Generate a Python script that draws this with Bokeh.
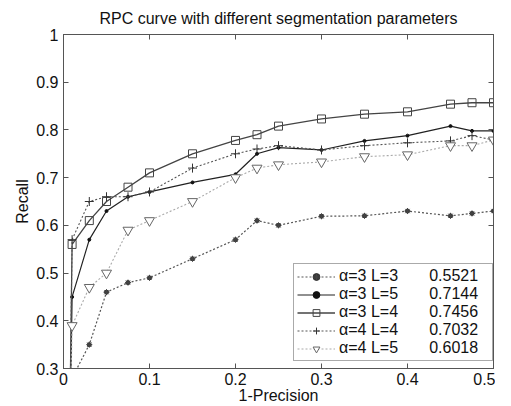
from bokeh.plotting import figure
from bokeh.models import LinearAxis, FixedTicker, Legend, LegendItem, Range1d
from bokeh.embed import file_html
from bokeh.resources import INLINE

# ---- data ----
labels = ["α=3 L=3", "α=3 L=5", "α=3 L=4", "α=4 L=4", "α=4 L=5"]
scores = ["0.5521", "0.7144", "0.7456", "0.7032", "0.6018"]

x1 = [0.01, 0.03, 0.05, 0.075, 0.1, 0.15, 0.2, 0.225, 0.25, 0.3, 0.35, 0.4, 0.45, 0.475, 0.5]
y1 = [0.28, 0.35, 0.46, 0.48, 0.49, 0.53, 0.57, 0.61, 0.60, 0.619, 0.62, 0.63, 0.62, 0.625, 0.63]

x2 = [0.006, 0.01, 0.03, 0.05, 0.075, 0.1, 0.15, 0.2, 0.225, 0.25, 0.3, 0.35, 0.4, 0.45, 0.475, 0.5]
y2 = [0.0, 0.45, 0.57, 0.63, 0.66, 0.67, 0.69, 0.707, 0.75, 0.763, 0.758, 0.777, 0.788, 0.808, 0.798, 0.798]

x3 = [0.006, 0.01, 0.03, 0.05, 0.075, 0.1, 0.15, 0.2, 0.225, 0.25, 0.3, 0.35, 0.4, 0.45, 0.475, 0.5]
y3 = [0.0, 0.56, 0.61, 0.65, 0.68, 0.71, 0.75, 0.778, 0.79, 0.808, 0.823, 0.833, 0.838, 0.854, 0.857, 0.857]

x4 = [0.006, 0.01, 0.03, 0.05, 0.075, 0.1, 0.15, 0.2, 0.225, 0.25, 0.3, 0.35, 0.4, 0.45, 0.475, 0.5]
y4 = [0.0, 0.57, 0.65, 0.66, 0.66, 0.67, 0.72, 0.75, 0.76, 0.767, 0.758, 0.767, 0.773, 0.777, 0.788, 0.779]

x5 = [0.006, 0.01, 0.03, 0.05, 0.075, 0.1, 0.15, 0.2, 0.225, 0.25, 0.3, 0.35, 0.4, 0.45, 0.475, 0.5]
y5 = [0.0, 0.39, 0.47, 0.50, 0.59, 0.61, 0.65, 0.70, 0.72, 0.727, 0.733, 0.744, 0.748, 0.767, 0.767, 0.779]

x_ticks = [0, 0.1, 0.2, 0.3, 0.4, 0.5]
x_tick_labels = ["0", "0.1", "0.2", "0.3", "0.4", "0.5"]
y_ticks = [0.3, 0.4, 0.5, 0.6, 0.7, 0.8, 0.9, 1.0]
y_tick_labels = ["0.3", "0.4", "0.5", "0.6", "0.7", "0.8", "0.9", "1"]

FONT = "Liberation Sans"

p = figure(width=495, height=406, output_backend="svg", toolbar_location=None,
           x_range=Range1d(0, 0.5), y_range=Range1d(0.3, 1.0),
           title="RPC curve with different segmentation parameters",
           min_border_left=63, min_border_right=2, min_border_top=34, min_border_bottom=36)
p.background_fill_color = "white"
p.border_fill_color = "white"
p.outline_line_color = "#555555"
p.grid.visible = False

p.title.text_font = FONT
p.title.text_font_size = "16px"
p.title.text_font_style = "normal"
p.title.align = "center"
p.title.vertical_align = "top"
p.title.text_color = "#111111"
p.title.standoff = 12

def style_axis(ax, show_labels=True):
    ax.major_tick_in = 5
    ax.major_tick_out = 0
    ax.minor_tick_line_color = None
    ax.axis_line_color = "#555555"
    ax.major_tick_line_color = "#555555"
    ax.major_label_text_font = FONT
    ax.major_label_text_font_size = "16px"
    ax.major_label_text_color = "#111111"
    ax.axis_label_text_font = FONT
    ax.axis_label_text_font_size = "16px"
    ax.axis_label_text_font_style = "normal"
    ax.axis_label_text_color = "#111111"
    if not show_labels:
        ax.major_label_text_color = None
        ax.major_label_text_font_size = "1px"
        ax.major_label_standoff = 0

xa = p.xaxis[0]
style_axis(xa)
xa.ticker = FixedTicker(ticks=x_ticks)
xa.major_label_overrides = dict(zip(x_ticks, x_tick_labels))
xa.axis_label = "1-Precision"
xa.axis_label_standoff = -1
xa.major_label_standoff = 4

ya = p.yaxis[0]
style_axis(ya)
ya.ticker = FixedTicker(ticks=y_ticks)
ya.major_label_overrides = dict(zip(y_ticks, y_tick_labels))
ya.axis_label = "Recall"
ya.axis_label_standoff = 2
ya.major_label_standoff = 5

top = LinearAxis()
style_axis(top, False)
top.ticker = FixedTicker(ticks=x_ticks)
p.add_layout(top, "above")
right = LinearAxis()
style_axis(right, False)
right.ticker = FixedTicker(ticks=y_ticks)
p.add_layout(right, "right")

# series 1: dotted with asterisk
l1 = p.line(x1, y1, line_color="#555555", line_width=1.2, line_dash="2 2")
m1a = p.scatter(x1, y1, marker="circle", size=4, fill_color="#333333", line_color="#333333")
m1b = p.scatter(x1, y1, marker="asterisk", size=6, line_color="#444444", line_width=1)
# series 2: solid with dots
l2 = p.line(x2, y2, line_color="#222222", line_width=1.2)
m2 = p.scatter(x2, y2, marker="circle", size=3, fill_color="#111111", line_color="#111111")
# series 3: solid with open squares
l3 = p.line(x3, y3, line_color="#444444", line_width=1.3)
m3 = p.scatter(x3, y3, marker="square", size=8, fill_color=None, line_color="#444444", line_width=1)
# series 4: dotted with plus
l4 = p.line(x4, y4, line_color="#555555", line_width=1.1, line_dash="2 2")
m4 = p.scatter(x4, y4, marker="cross", size=9, line_color="#333333", line_width=1)
# series 5: light dotted with inverted triangles
l5 = p.line(x5, y5, line_color="#aaaaaa", line_width=1.1, line_dash="2 2")
m5 = p.scatter(x5, y5, marker="inverted_triangle", size=10, fill_color="white", line_color="#666666", line_width=1)

rends = [[l1, m1a, m1b], [l2, m2], [l3, m3], [l4, m4], [l5, m5]]
pad = "\u00a0" * 7
items = [LegendItem(label=lab + pad + sc, renderers=r) for lab, sc, r in zip(labels, scores, rends)]

legend = Legend(items=items, location=(230, 7))
legend.label_text_font = FONT
legend.label_text_font_size = "16px"
legend.label_text_color = "#111111"
legend.glyph_width = 38
legend.glyph_height = 17
legend.label_height = 17
legend.label_width = 150
legend.label_standoff = 4
legend.spacing = 0
legend.padding = 3
legend.margin = 0
legend.border_line_color = "#555555"
legend.background_fill_alpha = 1
p.add_layout(legend, "center")

open("out.html", "w").write(file_html(p, INLINE))
